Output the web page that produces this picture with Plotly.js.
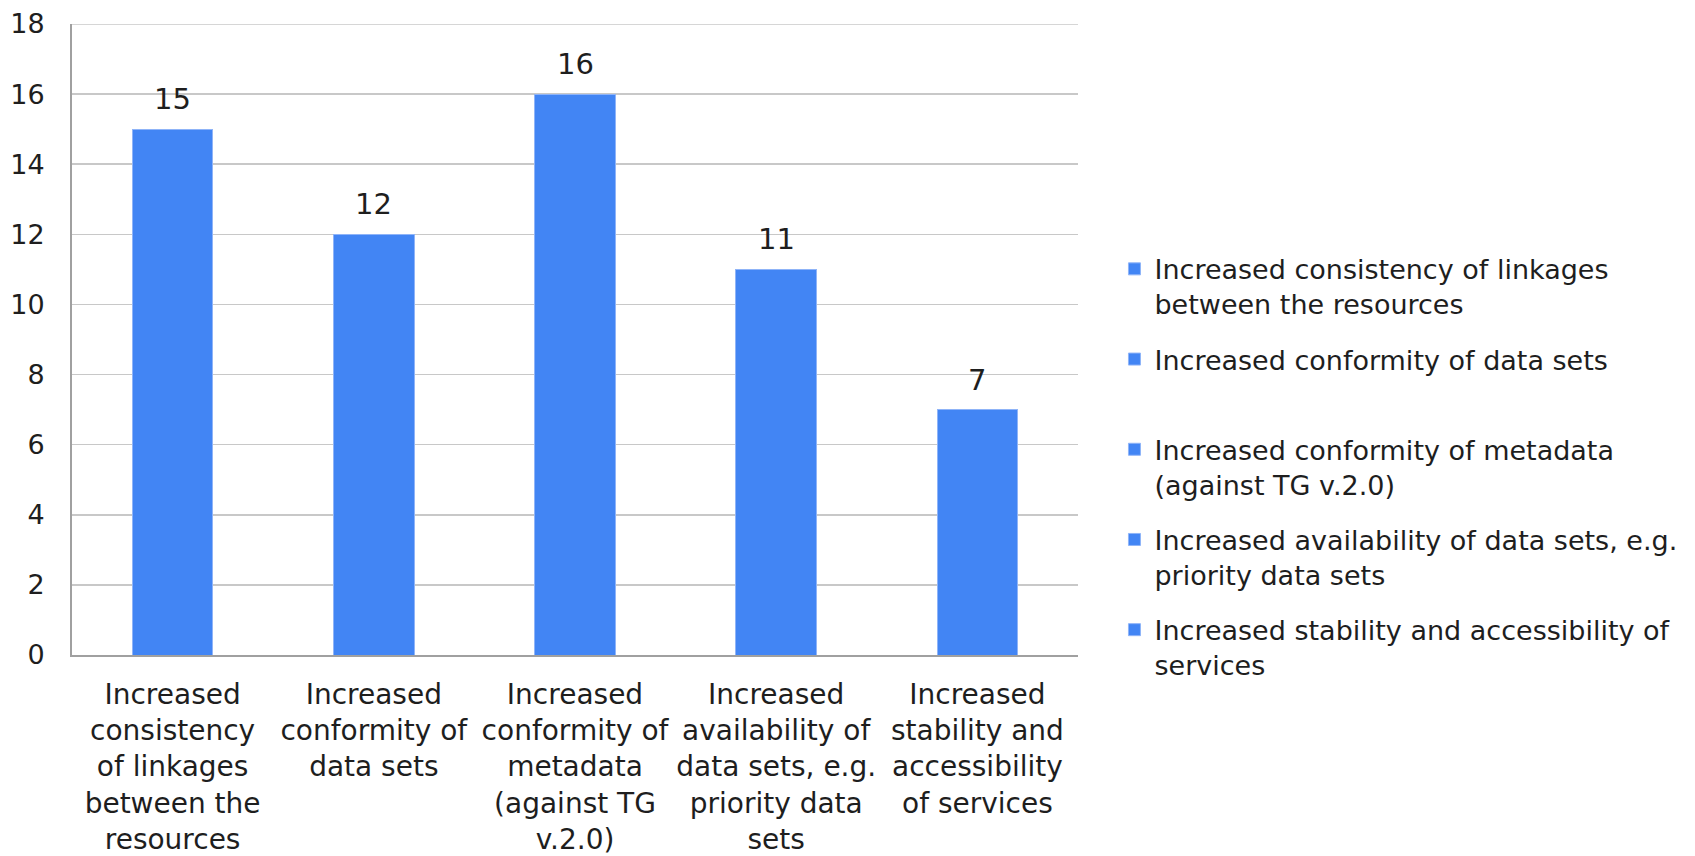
<!DOCTYPE html>
<html>
<head>
<meta charset="utf-8">
<script src="https://cdn.plot.ly/plotly-3.0.1.min.js"></script>
<style>html,body{margin:0;padding:0;background:#fff;}#chart{width:1695px;height:856px;}</style>
</head>
<body>
<div id="chart"></div>
<script>
// Categories (full names)
const categories = [
  "Increased consistency of linkages between the resources",
  "Increased conformity of data sets",
  "Increased conformity of metadata (against TG v.2.0)",
  "Increased availability of data sets, e.g. priority data sets",
  "Increased stability and accessibility of services"
];
// Values
const values = [15, 12, 16, 11, 7];
// Axis tick labels (wrapped as in the reference)
const tickLabels = [
  "Increased<br>consistency<br>of linkages<br>between the<br>resources",
  "Increased<br>conformity of<br>data sets",
  "Increased<br>conformity of<br>metadata<br>(against TG<br>v.2.0)",
  "Increased<br>availability of<br>data sets, e.g.<br>priority data<br>sets",
  "Increased<br>stability and<br>accessibility<br>of services"
];
// Legend labels (wrapped as in the reference)
const legendLabels = [
  "Increased consistency of linkages<br>between the resources",
  "Increased conformity of data sets<br> ",
  "Increased conformity of metadata<br>(against TG v.2.0)",
  "Increased availability of data sets, e.g.<br>priority data sets",
  "Increased stability and accessibility of<br>services"
];
const yMax = 18;

const FONT = "DejaVu Sans, Arial, sans-serif";
const BAR = "#4285f4";
const TXT = "#1e1e1e";

const traces = categories.map((c, i) => ({
  type: "bar",
  x: [c],
  y: [values[i]],
  name: legendLabels[i],
  legendgroup: "g" + i,
  marker: {color: BAR, line: {color: "#8fb4f8", width: 1}},
  hoverinfo: "x+y"
}));

const annotations = categories.map((c, i) => ({
  x: c, y: values[i], xref: "x", yref: "y",
  text: String(values[i]),
  showarrow: false, yanchor: "bottom", yshift: 11,
  font: {family: FONT, size: 29, color: TXT}
}));

const layout = {
  width: 1695, height: 856,
  margin: {l: 72, r: 617, t: 24, b: 201, pad: 0},
  paper_bgcolor: "#fff", plot_bgcolor: "#fff",
  barmode: "stack",
  bargap: 0.6,
  font: {family: FONT, color: TXT},
  showlegend: true,
  legend: {
    xref: "container", yref: "container",
    x: 0.6575, y: 0.714, xanchor: "left", yanchor: "top",
    font: {family: FONT, size: 27, color: TXT},
    valign: "top", itemwidth: 30,
    tracegroupgap: 17,
    maxheight: 800,
    bgcolor: "rgba(0,0,0,0)"
  },
  xaxis: {
    type: "category",
    tickmode: "array", tickvals: categories, ticktext: tickLabels,
    tickangle: 0, ticks: "",
    showline: true, linecolor: "#a0a0a0", linewidth: 2,
    showgrid: false, zeroline: false,
    ticklabelstandoff: 13,
    tickfont: {family: FONT, size: 28, color: TXT}
  },
  yaxis: {
    range: [0, yMax], dtick: 2, tick0: 0,
    showline: true, linecolor: "#a0a0a0", linewidth: 2,
    showgrid: true, gridcolor: "#c8c8c8", gridwidth: 1.5,
    zeroline: false, ticks: "",
    ticklabelstandoff: 20,
    tickfont: {family: FONT, size: 27, color: TXT}
  },
  shapes: [{
    type: "line", xref: "paper", yref: "y",
    x0: 0, x1: 1, y0: yMax, y1: yMax,
    line: {color: "#c8c8c8", width: 1.5}, layer: "below"
  }],
  annotations: annotations
};

Plotly.newPlot("chart", traces, layout, {displayModeBar: false, staticPlot: true});
</script>
</body>
</html>
